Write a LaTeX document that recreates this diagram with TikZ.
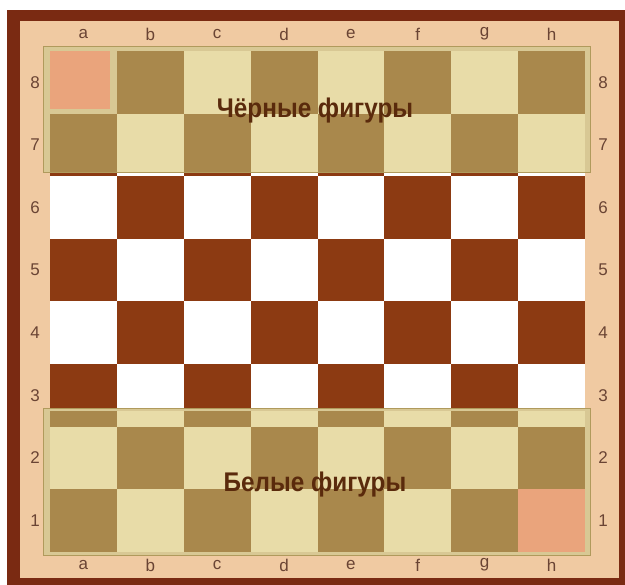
\documentclass[tikz,border=0pt]{standalone}
\usepackage{fontspec}
\setmainfont{Liberation Sans}
\usepackage{xcolor}
\usepackage{tikz}
\usetikzlibrary{positioning}
\definecolor{rimdark}{HTML}{7A2A12}
\definecolor{woodlight}{HTML}{F0CAA2}
\definecolor{sqdark}{HTML}{8C3A12}
\definecolor{golddark}{HTML}{A9884C}
\definecolor{goldlight}{HTML}{E8DCA8}
\definecolor{goldrim}{HTML}{B09A5C}
\definecolor{goldfill}{HTML}{D8C894}
\definecolor{salmon}{HTML}{EAA47C}
\definecolor{labelcol}{HTML}{6A4434}
\definecolor{titlecol}{HTML}{5A2A0C}

\begin{document}
\begin{tikzpicture}[x=1pt, y=-1pt,
    coordlabel/.style={text=labelcol, font=\fontsize{17}{17}\selectfont, inner sep=0pt},
    titlelabel/.style={text=titlecol, font=\bfseries\fontsize{27}{27}\selectfont, inner sep=0pt},
    goldzone/.style={fill=goldfill, draw=goldrim, line width=1pt}]
    \useasboundingbox (0,0) rectangle (625,585);
    % frame
    \fill[white] (0,0) rectangle (625,585);
    \fill[rimdark] (7,10) rectangle (625,585);
    \fill[woodlight] (20,21) rectangle (619,578);
    % squares
    \foreach \c in {1,...,8} {
      \foreach \r in {1,...,8} {
        \pgfmathsetmacro{\xa}{50+66.875*(\c-1)}
        \pgfmathsetmacro{\ya}{51+62.625*(8-\r)}
        \pgfmathtruncatemacro{\parity}{mod(\c+\r,2)}
        \ifnum\parity=0
          \fill[sqdark] (\xa,\ya) rectangle ++(66.875,62.625);
        \else
          \fill[white] (\xa,\ya) rectangle ++(66.875,62.625);
        \fi
      }
    }
    % black pieces zone
    \draw[goldzone] (43,47) rectangle (590,173);
    \begin{scope}
      \clip (50,51) rectangle (585,172);
      \foreach \c in {1,...,8} {
        \foreach \r in {7,8} {
          \pgfmathsetmacro{\xa}{50+66.875*(\c-1)}
          \pgfmathsetmacro{\ya}{51+62.625*(8-\r)}
          \pgfmathtruncatemacro{\parity}{mod(\c+\r,2)}
          \ifnum\parity=0
            \fill[golddark] (\xa,\ya) rectangle ++(66.875,62.625);
          \else
            \fill[goldlight] (\xa,\ya) rectangle ++(66.875,62.625);
          \fi
        }
      }
    \end{scope}
    \fill[goldfill] (50,51) rectangle (117,114);
    \fill[salmon] (50,51) rectangle (110,109);
    % white pieces zone
    \draw[goldzone] (43,409) rectangle (590,556);
    \begin{scope}
      \clip (50,412) rectangle (585,552);
      \foreach \c in {1,...,8} {
        \foreach \r in {1,2,3} {
          \pgfmathsetmacro{\xa}{50+66.875*(\c-1)}
          \pgfmathsetmacro{\ya}{51+62.625*(8-\r)}
          \pgfmathtruncatemacro{\parity}{mod(\c+\r,2)}
          \ifnum\parity=0
            \fill[golddark] (\xa,\ya) rectangle ++(66.875,62.625);
          \else
            \fill[goldlight] (\xa,\ya) rectangle ++(66.875,62.625);
          \fi
        }
      }
    \end{scope}
    \fill[salmon] (518.1,489.4) rectangle (585,552);
    % files and ranks
    \foreach \f [count=\c] in {a,b,c,d,e,f,g,h} {
      \pgfmathsetmacro{\xm}{50+66.875*(\c-0.5)}
      \node[coordlabel] (top\f) at (\xm,34) {\f};
      \node[coordlabel] (bot\f) at (\xm,565) {\f};
    }
    \foreach \r in {1,...,8} {
      \pgfmathsetmacro{\ym}{51+62.625*(8.5-\r)}
      \node[coordlabel] (left\r) at (35,\ym) {\r};
      \node[coordlabel] (right\r) at (603,\ym) {\r};
    }
    % titles
    \node[titlelabel] (blacktitle) at (315,111) {\scalebox{0.9}[1]{Чёрные фигуры}};
    \node[titlelabel] (whitetitle) at (315,485) {\scalebox{0.9}[1]{Белые фигуры}};
\end{tikzpicture}
\end{document}
